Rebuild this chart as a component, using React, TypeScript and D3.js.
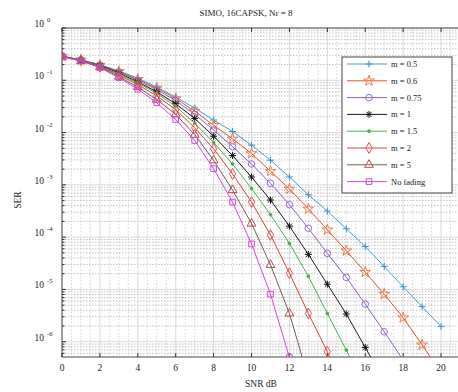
import React from "react";
import * as d3 from "d3";

const W = 458;
const H = 392;
const PLOT = { left: 62, top: 28, right: 460, bottom: 357 };

// SNR points (dB)
const snrDb = [0, 1, 2, 3, 4, 5, 6, 7, 8, 9, 10, 11, 12, 13, 14, 15, 16, 17, 18, 19, 20];

// log10(SER), one per SNR point
const serM05 = [-0.54, -0.61, -0.7, -0.82, -0.96, -1.13, -1.32, -1.53, -1.76, -1.98, -2.24, -2.53, -2.85, -3.19, -3.5, -3.84, -4.18, -4.56, -4.95, -5.33, -5.71];
const serM06 = [-0.54, -0.61, -0.71, -0.83, -0.98, -1.15, -1.35, -1.59, -1.86, -2.12, -2.4, -2.74, -3.08, -3.46, -3.86, -4.26, -4.67, -5.09, -5.54, -6.06, -6.6];
const serM075 = [-0.54, -0.61, -0.71, -0.84, -1.0, -1.18, -1.39, -1.65, -1.95, -2.27, -2.6, -2.97, -3.38, -3.83, -4.31, -4.77, -5.28, -5.81, -6.35];
const serM1 = [-0.54, -0.62, -0.72, -0.86, -1.03, -1.22, -1.45, -1.73, -2.07, -2.44, -2.85, -3.29, -3.79, -4.33, -4.9, -5.47, -6.11, -6.75];
const serM15 = [-0.54, -0.62, -0.73, -0.88, -1.05, -1.25, -1.5, -1.82, -2.19, -2.6, -3.07, -3.57, -4.12, -4.75, -5.46, -6.16, -6.9];
const serM2 = [-0.54, -0.62, -0.74, -0.9, -1.08, -1.3, -1.56, -1.91, -2.31, -2.79, -3.33, -3.96, -4.69, -5.46, -6.19, -7.0];
const serM5 = [-0.55, -0.63, -0.75, -0.93, -1.13, -1.37, -1.65, -2.04, -2.53, -3.1, -3.74, -4.53, -5.46, -6.7];
const serNoFading = [-0.55, -0.63, -0.76, -0.95, -1.17, -1.43, -1.75, -2.15, -2.69, -3.33, -4.13, -5.09, -6.3];

const seriesNames = ["m = 0.5", "m = 0.6", "m = 0.75", "m = 1", "m = 1.5", "m = 2", "m = 5", "No fading"];
const seriesValues = [serM05, serM06, serM075, serM1, serM15, serM2, serM5, serNoFading];
const lineColors = ["#3f9fd8", "#e2522f", "#8e62c4", "#1a1a1a", "#45b24a", "#e23f3f", "#7a5a5a", "#e040e0"];
const markerColors = ["#3a8fd0", "#f07a4c", "#9a6ad0", "#111111", "#45b24a", "#e85050", "#c04a4a", "#d04ad8"];
const markerKinds = ["plus", "star", "circle", "asterisk", "dot", "diamond", "triangle", "square"];

const xTicks = [0, 2, 4, 6, 8, 10, 12, 14, 16, 18, 20];
const yDecades = [0, -1, -2, -3, -4, -5, -6];

const x = d3.scaleLinear().domain([0, 21]).range([PLOT.left, PLOT.right]);
const y = d3.scaleLog().domain([5.1e-7, 1]).range([PLOT.bottom, PLOT.top]);

const markerPath = (kind: string) => {
  if (kind === "plus") return "M-3.5,0H3.5M0,-3.5V3.5";
  if (kind === "asterisk") return "M-3.5,0H3.5M0,-3.5V3.5M-2.6,-2.6L2.6,2.6M-2.6,2.6L2.6,-2.6";
  if (kind === "star") return d3.symbol(d3.symbolStar, 36)()!;
  if (kind === "circle") return d3.symbol(d3.symbolCircle, 34)()!;
  if (kind === "dot") return d3.symbol(d3.symbolCircle, 6)()!;
  if (kind === "diamond") return d3.symbol(d3.symbolDiamond, 34)()!;
  if (kind === "triangle") return d3.symbol(d3.symbolTriangle, 34)()!;
  return d3.symbol(d3.symbolSquare, 32)()!;
};

const Marker = ({ kind, color, tx, ty }: { kind: string; color: string; tx: number; ty: number }) => (
  <path
    d={markerPath(kind)}
    transform={`translate(${tx},${ty})`}
    fill={kind === "dot" ? color : "none"}
    stroke={color}
    strokeWidth={1}
  />
);

export default function App() {
  const line = d3
    .line<number>()
    .x((d, i) => x(snrDb[i]))
    .y((d) => y(Math.pow(10, d)));

  const minor: number[] = [];
  for (let e = -7; e < 0; e++) for (let k = 2; k <= 9; k++) {
    const v = k * Math.pow(10, e);
    if (v > 5.1e-7) minor.push(v);
  }
  const xMinor = d3.range(0, 21.01, 0.5).filter((v) => v % 2 !== 0);

  const legX = 342;
  const legY = 57;
  const rowH = 16.8;

  return (
    <svg width={W} height={H} style={{ position: "absolute", left: 0, top: 0, background: "#fff" }} fontFamily="'Liberation Serif', serif">
      <defs>
        <clipPath id="plotclip">
          <rect x={PLOT.left} y={PLOT.top} width={PLOT.right - PLOT.left} height={PLOT.bottom - PLOT.top} />
        </clipPath>
      </defs>
      <rect width={W} height={H} fill="#fff" />
      {/* grid */}
      <g clipPath="url(#plotclip)">
        {minor.map((v) => (
          <line key={"hm" + v} x1={PLOT.left} x2={PLOT.right} y1={y(v)} y2={y(v)} stroke="#a8a8a8" strokeWidth={0.7} strokeDasharray="1.5,1.5" />
        ))}
        {xMinor.map((v) => (
          <line key={"vm" + v} x1={x(v)} x2={x(v)} y1={PLOT.top} y2={PLOT.bottom} stroke="#c4c4c4" strokeWidth={0.7} strokeDasharray="1.5,2" />
        ))}
        {yDecades.map((e) => (
          <line key={"hM" + e} x1={PLOT.left} x2={PLOT.right} y1={y(Math.pow(10, e))} y2={y(Math.pow(10, e))} stroke="#d0d0d0" strokeWidth={0.8} />
        ))}
        {xTicks.map((t) => (
          <line key={"vM" + t} x1={x(t)} x2={x(t)} y1={PLOT.top} y2={PLOT.bottom} stroke="#d0d0d0" strokeWidth={0.8} />
        ))}
      </g>
      {/* axes box and ticks */}
      <rect x={PLOT.left} y={PLOT.top} width={PLOT.right - PLOT.left} height={PLOT.bottom - PLOT.top} fill="none" stroke="#333" strokeWidth={0.9} />
      {xTicks.map((t) => (
        <g key={"xt" + t}>
          <line x1={x(t)} x2={x(t)} y1={PLOT.bottom} y2={PLOT.bottom - 4} stroke="#333" />
          <line x1={x(t)} x2={x(t)} y1={PLOT.top} y2={PLOT.top + 4} stroke="#333" />
          <text x={x(t)} y={371} textAnchor="middle" fontSize={9.5} fill="#222">{t}</text>
        </g>
      ))}
      {minor.map((v) => (
        <line key={"ymt" + v} x1={PLOT.left} x2={PLOT.left + 2.5} y1={y(v)} y2={y(v)} stroke="#333" />
      ))}
      {yDecades.map((e) => (
        <g key={"yt" + e}>
          <line x1={PLOT.left} x2={PLOT.left + 4} y1={y(Math.pow(10, e))} y2={y(Math.pow(10, e))} stroke="#333" />
          <text x={44} y={y(Math.pow(10, e)) - 1} textAnchor="end" fontSize={9.5} fill="#222">10</text>
          <text x={47} y={y(Math.pow(10, e)) - 6} fontSize={6.5} fill="#222">{e === 0 ? "0" : "-" + -e}</text>
        </g>
      ))}
      {/* series */}
      <g clipPath="url(#plotclip)">
        {seriesValues.map((vals, si) => (
          <g key={"s" + si}>
            <path d={line(vals)!} fill="none" stroke={lineColors[si]} strokeWidth={1} />
            {vals.map((v, i) => (
              <Marker key={i} kind={markerKinds[si]} color={markerColors[si]} tx={x(snrDb[i])} ty={y(Math.pow(10, v))} />
            ))}
          </g>
        ))}
      </g>
      {/* labels */}
      <text x={246} y={16} textAnchor="middle" fontSize={9} fill="#222">SIMO, 16CAPSK, Nr = 8</text>
      <text x={261} y={387} textAnchor="middle" fontSize={9.5} fill="#222">SNR dB</text>
      <text transform={`translate(21,200) rotate(-90)`} textAnchor="middle" fontSize={9.5} fill="#222">SER</text>
      {/* legend */}
      <rect x={legX} y={legY} width={110} height={136} fill="#fff" stroke="#333" strokeWidth={0.9} />
      {seriesNames.map((name, i) => {
        const ry = legY + 7 + rowH * i;
        return (
          <g key={"lg" + i}>
            <line x1={legX + 5} x2={legX + 45} y1={ry} y2={ry} stroke={lineColors[i]} strokeWidth={1} />
            <Marker kind={markerKinds[i]} color={markerColors[i]} tx={legX + 27} ty={ry} />
            <text x={legX + 49} y={ry + 3} fontSize={8.5} fill="#222">{name}</text>
          </g>
        );
      })}
    </svg>
  );
}
